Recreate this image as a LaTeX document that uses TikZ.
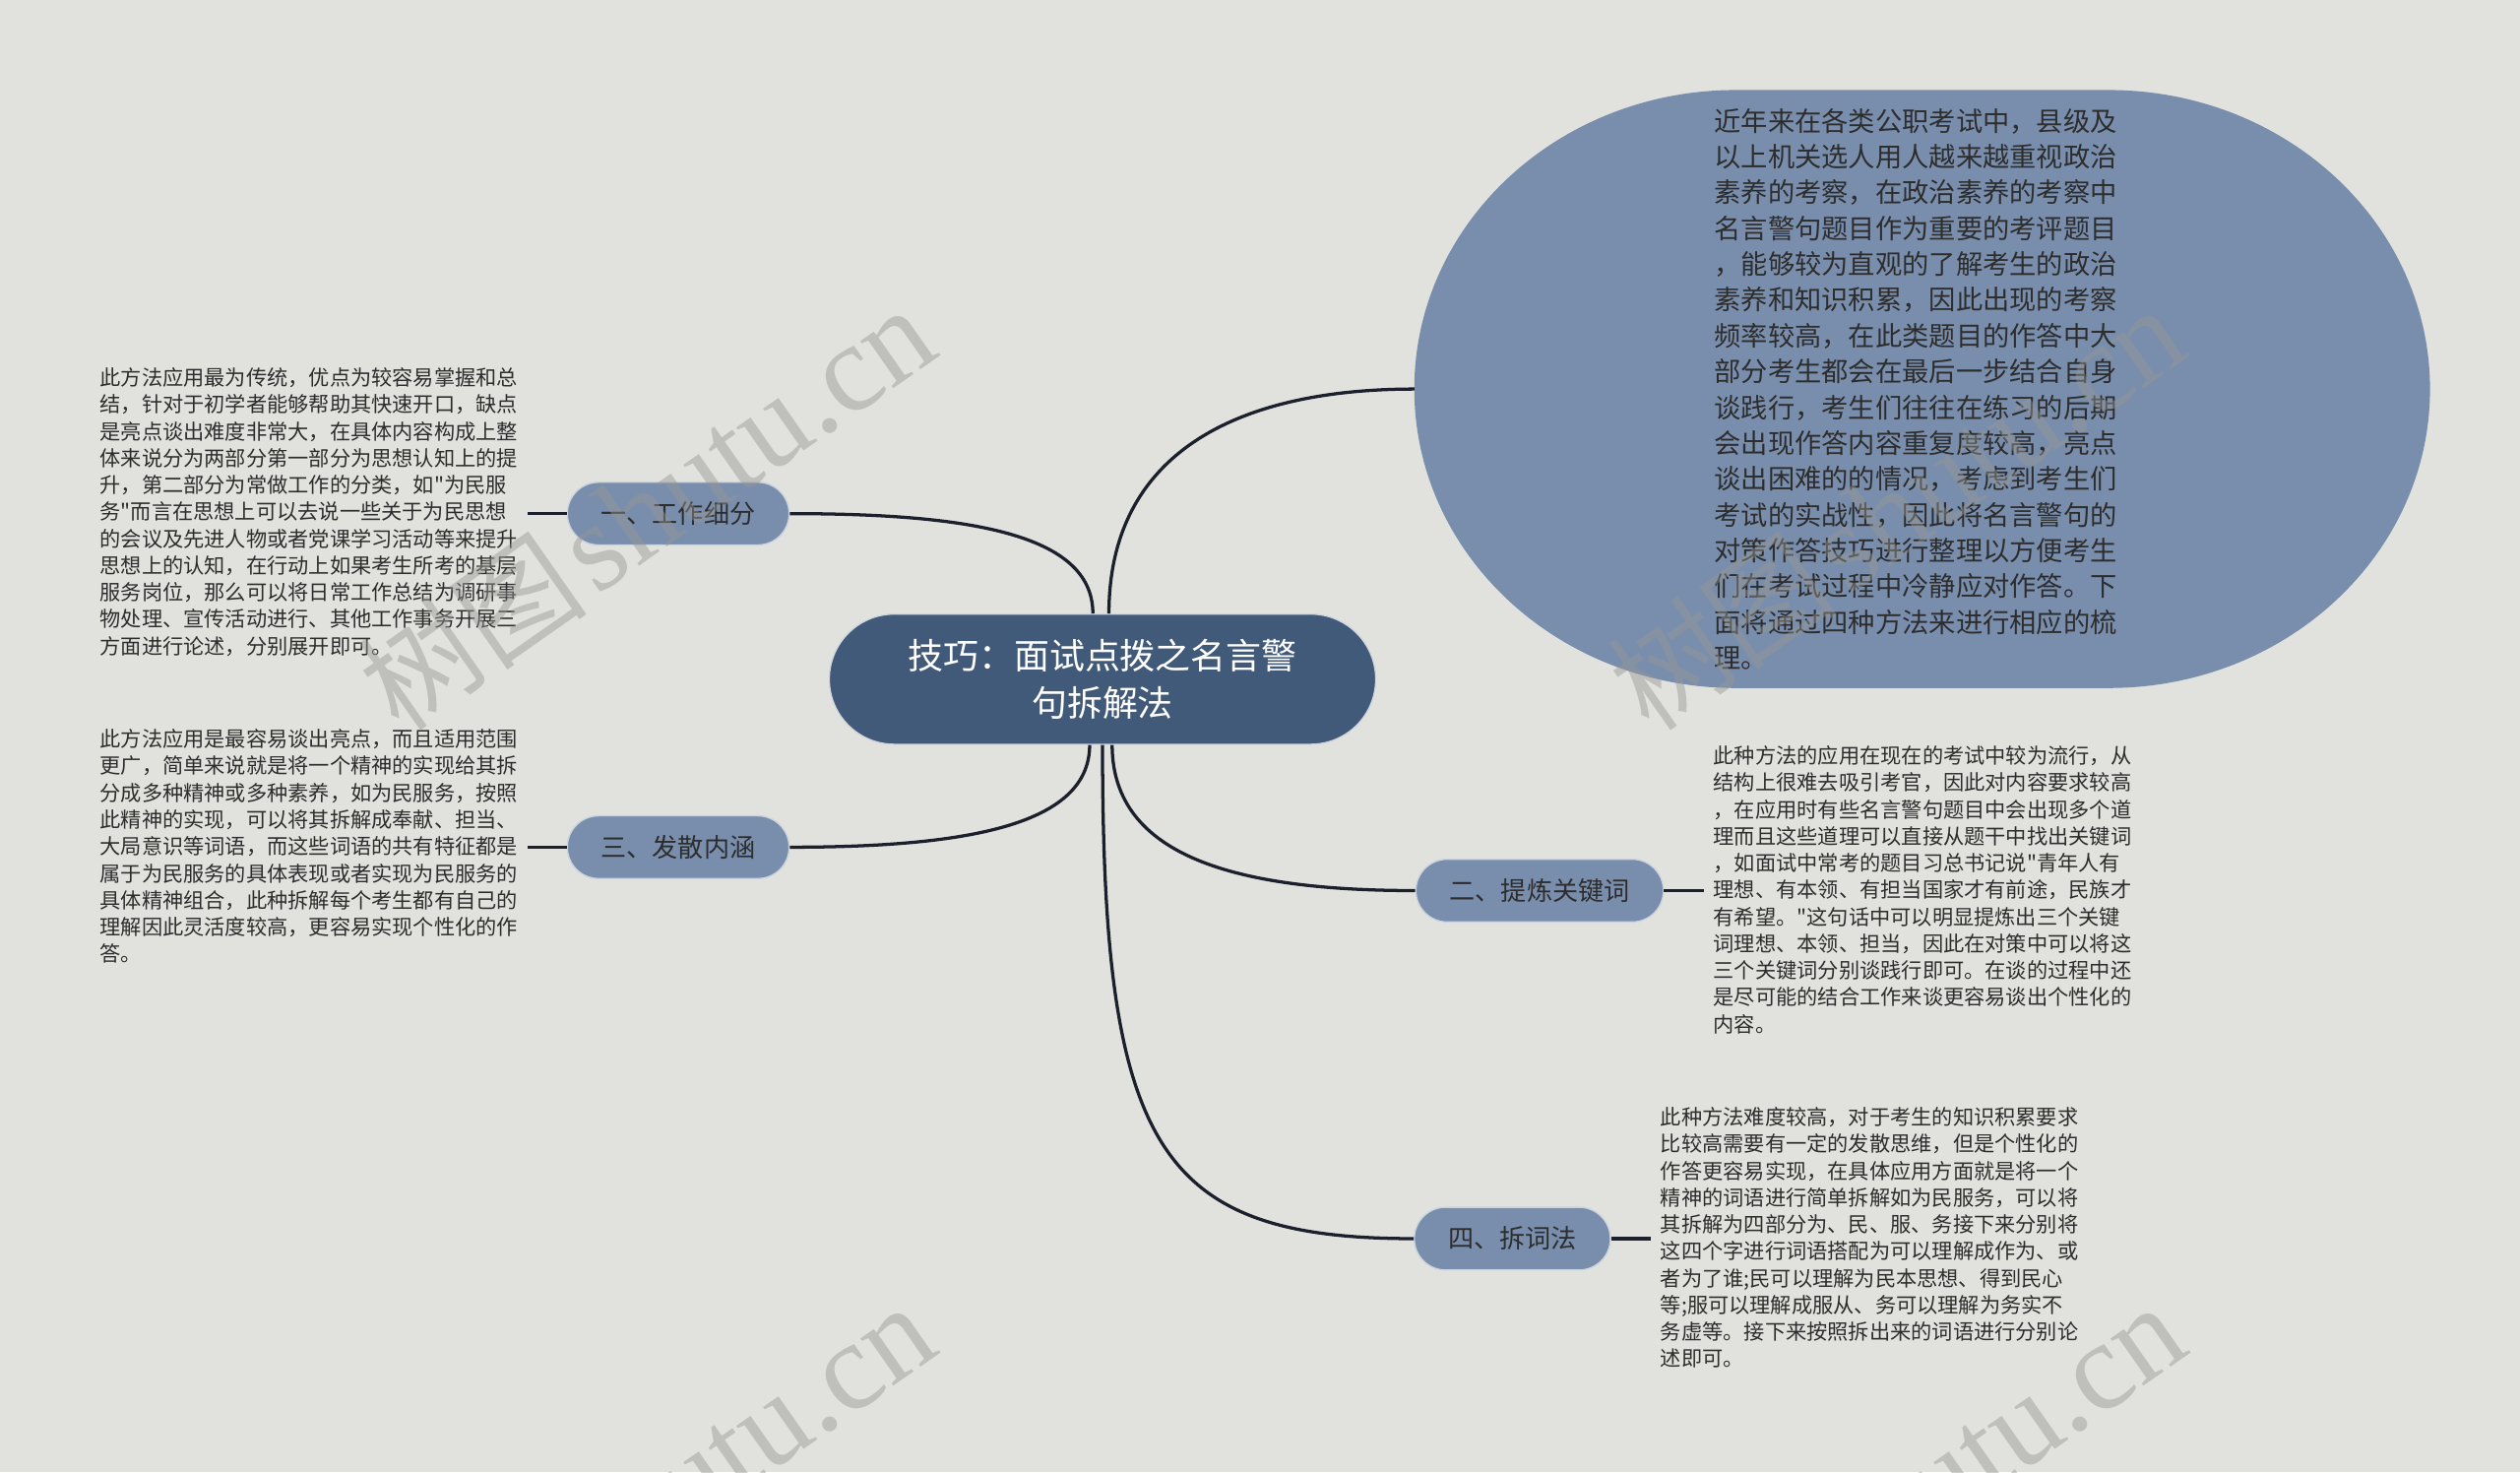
\documentclass[tikz,border=0pt]{standalone}
\usepackage{fontspec}
\setmainfont{Noto Sans CJK SC}[Ligatures=TeXOff]
\newfontfamily\wmlat{Liberation Serif}
\newfontfamily\wmcjk{Noto Sans CJK SC}
\definecolor{cbg}{RGB}{225,226,221}
\definecolor{cmain}{RGB}{66,90,122}
\definecolor{csub}{RGB}{121,142,172}
\definecolor{ctext}{RGB}{45,45,45}
\definecolor{clink}{RGB}{28,32,44}
\definecolor{cwm}{RGB}{150,150,148}
\tikzset{
  mainnode/.style={fill=cmain, draw=white!75!cmain, line width=0.8pt, rounded corners=40.5pt,
    minimum width=340pt, minimum height=81pt, text=white, align=center,
    font=\fontsize{22}{29}\selectfont, inner sep=0pt},
  subnode/.style={fill=csub, draw=white!60!csub, line width=0.8pt, rounded corners=19.5pt,
    minimum height=39pt, inner xsep=21pt, inner ysep=0pt, text=ctext,
    font=\fontsize{16}{20}\selectfont},
  desc/.style={align=left, inner sep=0pt, text=ctext, font=\fontsize{13}{16.7}\selectfont},
  bigtext/.style={align=left, inner sep=0pt, text=ctext, font=\fontsize{16.7}{22.27}\selectfont},
  link/.style={draw=clink, line width=2pt},
  wm/.style={text=cwm, opacity=0.45, inner sep=0pt, rotate=35},
}
\begin{document}
\begin{tikzpicture}[x=1pt,y=-1pt]
\useasboundingbox (0,0) rectangle (1568,915.7);
\fill[cbg] (0,0) rectangle (1568,915.7);
\clip (0,0) rectangle (1568,915.7);

% big top-right shape
\fill[csub] (1080,56) -- (1312,56) arc[start angle=-90, end angle=90, x radius=200, y radius=186]
  -- (1080,428) arc[start angle=90, end angle=270, x radius=200, y radius=186] -- cycle;
\coordinate (bigw) at (880,242);
\node[bigtext] (big) at (1192,242) {近年来在各类公职考试中，县级及\\
以上机关选人用人越来越重视政治\\
素养的考察，在政治素养的考察中\\
名言警句题目作为重要的考评题目\\
，能够较为直观的了解考生的政治\\
素养和知识积累，因此出现的考察\\
频率较高，在此类题目的作答中大\\
部分考生都会在最后一步结合自身\\
谈践行，考生们往往在练习的后期\\
会出现作答内容重复度较高，亮点\\
谈出困难的的情况，考虑到考生们\\
考试的实战性，因此将名言警句的\\
对策作答技巧进行整理以方便考生\\
们在考试过程中冷静应对作答。下\\
面将通过四种方法来进行相应的梳\\
理。};

% central
\node[mainnode] (c) at (686,422.5) {技巧：面试点拨之名言警\\句拆解法};

% branches
\node[subnode] (n1) at (422,319.5) {一、工作细分};
\node[subnode] (n3) at (422,527) {三、发散内涵};
\node[subnode] (n2) at (958,554) {二、提炼关键词};
\node[subnode] (n4) at (941,770.5) {四、拆词法};

% descriptions
\node[desc, anchor=west] (t1) at (62,318.5) {此方法应用最为传统，优点为较容易掌握和总\\
结，针对于初学者能够帮助其快速开口，缺点\\
是亮点谈出难度非常大，在具体内容构成上整\\
体来说分为两部分第一部分为思想认知上的提\\
升，第二部分为常做工作的分类，如"为民服\\
务"而言在思想上可以去说一些关于为民思想\\
的会议及先进人物或者党课学习活动等来提升\\
思想上的认知，在行动上如果考生所考的基层\\
服务岗位，那么可以将日常工作总结为调研事\\
物处理、宣传活动进行、其他工作事务开展三\\
方面进行论述，分别展开即可。};

\node[desc, anchor=west] (t3) at (62,526.5) {此方法应用是最容易谈出亮点，而且适用范围\\
更广，简单来说就是将一个精神的实现给其拆\\
分成多种精神或多种素养，如为民服务，按照\\
此精神的实现，可以将其拆解成奉献、担当、\\
大局意识等词语，而这些词语的共有特征都是\\
属于为民服务的具体表现或者实现为民服务的\\
具体精神组合，此种拆解每个考生都有自己的\\
理解因此灵活度较高，更容易实现个性化的作\\
答。};

\node[desc, anchor=west] (t2) at (1066,553.5) {此种方法的应用在现在的考试中较为流行，从\\
结构上很难去吸引考官，因此对内容要求较高\\
，在应用时有些名言警句题目中会出现多个道\\
理而且这些道理可以直接从题干中找出关键词\\
，如面试中常考的题目习总书记说"青年人有\\
理想、有本领、有担当国家才有前途，民族才\\
有希望。"这句话中可以明显提炼出三个关键\\
词理想、本领、担当，因此在对策中可以将这\\
三个关键词分别谈践行即可。在谈的过程中还\\
是尽可能的结合工作来谈更容易谈出个性化的\\
内容。};

\node[desc, anchor=west] (t4) at (1033,770) {此种方法难度较高，对于考生的知识积累要求\\
比较高需要有一定的发散思维，但是个性化的\\
作答更容易实现，在具体应用方面就是将一个\\
精神的词语进行简单拆解如为民服务，可以将\\
其拆解为四部分为、民、服、务接下来分别将\\
这四个字进行词语搭配为可以理解成作为、或\\
者为了谁;民可以理解为民本思想、得到民心\\
等;服可以理解成服从、务可以理解为务实不\\
务虚等。接下来按照拆出来的词语进行分别论\\
述即可。};

% connectors
\draw[link] ([xshift=4pt]c.north) .. controls +(0,-100) and +(-110,0) .. (bigw);
\draw[link] ([xshift=-6pt]c.north) .. controls +(0,-50) and +(110,0) .. (n1.east);
\draw[link] ([xshift=-8pt]c.south) .. controls +(0,50) and +(110,0) .. (n3.east);
\draw[link] ([xshift=6pt]c.south) .. controls +(0,70) and +(-110,0) .. (n2.west);
\draw[link] ([xshift=0pt]c.south) .. controls +(0,250) and +(-160,0) .. (n4.west);

% stubs to descriptions
\draw[link] (n1.west) -- ([xshift=6pt]t1.east |- n1.west);
\draw[link] (n3.west) -- ([xshift=6pt]t3.east |- n3.west);
\draw[link] (n2.east) -- ([xshift=-6pt]t2.west |- n2.east);
\draw[link] (n4.east) -- ([xshift=-6pt]t4.west |- n4.east);

% watermarks
\foreach \wx/\wy in {402/316, 1180/316, 402/937, 1180/937}{
  \node[wm] at (\wx,\wy) {{\fontsize{72}{72}\wmcjk 树图}\hspace{6pt}{\fontsize{78}{78}\wmlat shutu.cn}};
}
\end{tikzpicture}
\end{document}
